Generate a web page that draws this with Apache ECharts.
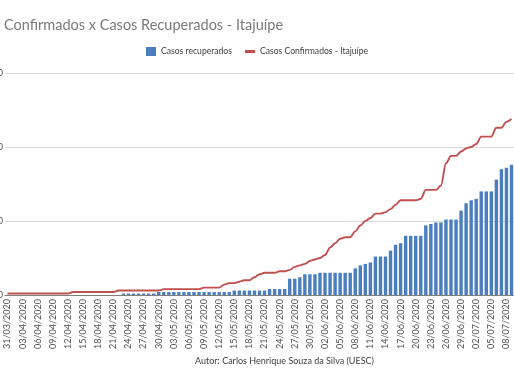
<!DOCTYPE html>
<html>
<head>
<meta charset="utf-8">
<script src="https://cdn.jsdelivr.net/npm/echarts@6/dist/echarts.min.js"></script>
<style>html,body{margin:0;padding:0;background:#fff;}#c{width:514px;height:386px;}</style>
</head>
<body>
<div id="c"></div>
<script>
var categories = [
"31/03/2020",
"01/04/2020","02/04/2020","03/04/2020","04/04/2020","05/04/2020","06/04/2020","07/04/2020","08/04/2020","09/04/2020","10/04/2020",
"11/04/2020","12/04/2020","13/04/2020","14/04/2020","15/04/2020","16/04/2020","17/04/2020","18/04/2020","19/04/2020","20/04/2020",
"21/04/2020","22/04/2020","23/04/2020","24/04/2020","25/04/2020","26/04/2020","27/04/2020","28/04/2020","29/04/2020","30/04/2020",
"01/05/2020","02/05/2020","03/05/2020","04/05/2020","05/05/2020","06/05/2020","07/05/2020","08/05/2020","09/05/2020","10/05/2020",
"11/05/2020","12/05/2020","13/05/2020","14/05/2020","15/05/2020","16/05/2020","17/05/2020","18/05/2020","19/05/2020","20/05/2020",
"21/05/2020","22/05/2020","23/05/2020","24/05/2020","25/05/2020","26/05/2020","27/05/2020","28/05/2020","29/05/2020","30/05/2020","31/05/2020",
"01/06/2020","02/06/2020","03/06/2020","04/06/2020","05/06/2020","06/06/2020","07/06/2020","08/06/2020","09/06/2020","10/06/2020",
"11/06/2020","12/06/2020","13/06/2020","14/06/2020","15/06/2020","16/06/2020","17/06/2020","18/06/2020","19/06/2020","20/06/2020",
"21/06/2020","22/06/2020","23/06/2020","24/06/2020","25/06/2020","26/06/2020","27/06/2020","28/06/2020","29/06/2020","30/06/2020",
"01/07/2020","02/07/2020","03/07/2020","04/07/2020","05/07/2020","06/07/2020","07/07/2020","08/07/2020","09/07/2020"
];

var recuperados = [
0,0,0,0,0,0,0,0,0,0,
0,0,0,0,0,0,0,0,0,0,
0,0,0,1,1,1,1,1,1,1,
2,2,2,2,2,2,2,2,2,2,
2,2,2,2,2,3,3,3,3,3,
3,3,4,4,4,4,11,11,12,14,
14,14,15,15,15,15,15,15,15,18,
20,21,22,26,26,26,30,34,35,40,
40,40,40,47,48,49,49,51,51,51,
57,62,64,65,70,70,70,78,85,86,
88
];

var confirmados = [
1,1,1,1,1,1,1,1,1,1,
1,1,1,2,2,2,2,2,2,2,
2,2,3,3,3,3,3,3,3,3,
3,4,4,4,4,4,4,4,4,5,
5,5,5,7,8,8,9,10,10,12,
14,15,15,15,16,16,17,19,20,21,
23,24,25,27,32,35,38,39,39,43,
47,50,52,55,55,56,58,61,64,64,
64,64,65,71,71,71,74,89,94,94,
97,99,100,102,107,107,107,113,113,117,
119
];

var yTicks = { min: 0, max: 150, interval: 50 };

var titleText = "Confirmados x Casos Recuperados - Itajuípe";
var footerText = "Autor: Carlos Henrique Souza da Silva (UESC)";
var seriesNames = ["Casos recuperados", "Casos Confirmados - Itajuípe"];

var chart = echarts.init(document.getElementById('c'), null, {renderer: 'canvas'});
var FONT = 'Lato, "Liberation Sans", sans-serif';
chart.setOption({
  animation: false,
  backgroundColor: '#ffffff',
  textStyle: { fontFamily: FONT },
  title: {
    text: titleText,
    left: 4, top: 18, padding: 0,
    textStyle: { fontFamily: FONT, fontSize: 14.5, fontWeight: 'normal', color: '#7a7a7a' }
  },
  legend: {
    left: 'center', top: 47, padding: 0,
    itemWidth: 10, itemHeight: 9, itemGap: 13,
    textStyle: { fontFamily: FONT, fontSize: 8.6, color: '#404040' },
    data: [
      { name: seriesNames[0], icon: 'rect' },
      { name: seriesNames[1], icon: 'path://M0,0 L10,0 L10,3 L0,3 Z' }
    ]
  },
  grid: { left: 5, right: 0, top: 73, bottom: 91, containLabel: false, outerBoundsMode: 'none' },
  xAxis: {
    type: 'category',
    data: categories,
    boundaryGap: true,
    axisLine: { lineStyle: { color: '#7f7f7f', width: 1 } },
    axisTick: { show: false },
    axisLabel: {
      interval: 2, rotate: 90, fontSize: 9, color: '#505050', margin: 4,
      fontFamily: FONT
    },
    splitLine: { show: false }
  },
  yAxis: {
    type: 'value',
    min: yTicks.min, max: yTicks.max, interval: yTicks.interval,
    axisLine: { show: false },
    axisTick: { show: false },
    axisLabel: { show: true, fontSize: 9, color: '#505050', margin: 2 },
    splitLine: { lineStyle: { color: '#d9d9d9', width: 1 } }
  },
  graphic: [{
    type: 'text',
    left: 195, top: 357,
    style: { text: footerText, fontFamily: FONT, fontSize: 9, fill: '#404040' }
  }],
  series: [
    {
      name: seriesNames[0], type: 'bar', data: recuperados,
      barWidth: 3.4,
      itemStyle: { color: '#4a7ebf' }
    },
    {
      name: seriesNames[1], type: 'line', data: confirmados,
      smooth: 0.35, smoothMonotone: 'x',
      showSymbol: false, symbol: 'none',
      lineStyle: { color: '#c0504d', width: 1.9 },
      itemStyle: { color: '#c0504d' }
    }
  ]
});
</script>
</body>
</html>
